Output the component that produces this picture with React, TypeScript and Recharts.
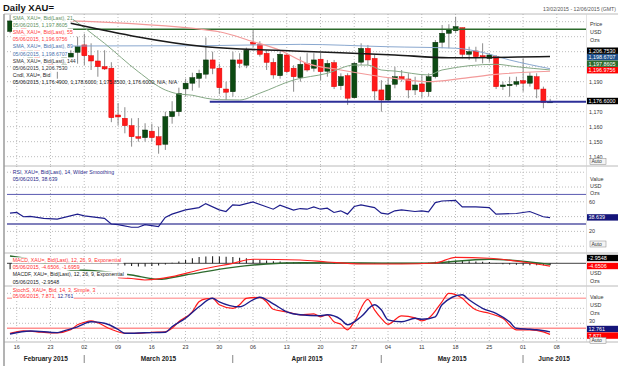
import React from "react";
import { ComposedChart, Bar, Line, XAxis, YAxis, CartesianGrid, ReferenceLine } from "recharts";

const FONT = "'Liberation Sans', Arial, sans-serif";
const X_DOMAIN: [number, number] = [-0.44, 85.33];

// trading-day index 0 = 13/02/2015 ... 80 = 05/06/2015
const dayTicks = [1, 6, 11, 16, 21, 26, 31, 36, 41, 46, 51, 56, 61, 66, 71, 76, 81];
const dayLabels = ["16", "23", "02", "09", "16", "23", "30", "06", "13", "20", "27", "04", "11", "18", "25", "01", "08"];
const monthCenters = [5.3, 22, 44, 65.5, 80.6];
const monthLabels = ["February 2015", "March 2015", "April 2015", "May 2015", "June 2015"];
const monthStarts = [11, 33, 55, 76];

const opens = [1223.5, 1229, 1227, 1202, 1211, 1205, 1204, 1198, 1200, 1206, 1209.6, 1214.5, 1207.3, 1203.8, 1200, 1199, 1167.8, 1165.6, 1160.7, 1153.3, 1152.7, 1157, 1153.3, 1148.3, 1166.7, 1170, 1185.2, 1189, 1192.2, 1195, 1204.5, 1199, 1185.1, 1183.3, 1204.5, 1201, 1216.3, 1215, 1208.9, 1202.9, 1194, 1207.8, 1199, 1192.7, 1202.2, 1199, 1205, 1197, 1202.7, 1187.3, 1194, 1179.3, 1203, 1212.2, 1205.5, 1184.5, 1177.8, 1188.3, 1193.3, 1191.8, 1184.5, 1188.5, 1183.3, 1193.3, 1216.3, 1222.3, 1224, 1226, 1208.3, 1210.5, 1207.3, 1205.5, 1206.7, 1186.7, 1187.3, 1188.3, 1190.7, 1189, 1193.3, 1185.1, 1176.49];
const highs = [1234.5, 1233, 1230, 1213, 1215, 1218, 1207, 1207, 1213, 1214, 1220, 1222, 1215.6, 1211, 1211, 1203, 1175.8, 1173, 1165.6, 1165.8, 1162.3, 1162, 1160, 1170, 1177, 1186, 1192, 1196, 1198, 1219.5, 1210, 1202, 1190, 1210, 1209, 1212.7, 1225, 1217, 1211, 1205.6, 1210, 1209, 1201, 1206.7, 1209, 1209, 1209, 1204.5, 1204.5, 1195.6, 1195.6, 1203.3, 1215.6, 1214.5, 1207.8, 1191, 1193, 1200, 1197.8, 1195.6, 1193.3, 1194.5, 1195.6, 1217.8, 1227.8, 1228.3, 1233.3, 1226, 1213.3, 1213.3, 1215.6, 1209, 1207.8, 1190, 1193.3, 1193.3, 1205.6, 1196.3, 1195.6, 1186.7, 1178.6];
const lows = [1222.3, 1222, 1199, 1197, 1203, 1199, 1193, 1192, 1198, 1202, 1202, 1201, 1197.8, 1193.3, 1197.8, 1163, 1161, 1155.6, 1146.7, 1150, 1150, 1150, 1142, 1144.5, 1162, 1167, 1180, 1184, 1186, 1192, 1195, 1181.6, 1177.8, 1180, 1199, 1199, 1213, 1206.7, 1197.8, 1192, 1192, 1195.6, 1183.3, 1190, 1196.7, 1196.7, 1191, 1193.3, 1185.1, 1184.5, 1174.5, 1179, 1201.1, 1201, 1177.8, 1170, 1177, 1185.6, 1190, 1179, 1181.1, 1179.3, 1180, 1192.2, 1212.3, 1212.3, 1222.3, 1205.6, 1204.5, 1203.3, 1202.2, 1203.3, 1185.1, 1184.5, 1180, 1186.7, 1183.3, 1186.7, 1179, 1172.3, 1175.85];
const closes = [1230.5, 1227, 1208, 1211, 1205, 1204, 1198, 1200, 1209, 1209, 1213.3, 1207.3, 1203.8, 1200, 1198.5, 1166, 1166.5, 1160.7, 1153.3, 1152.3, 1157.8, 1152.7, 1147.8, 1166.7, 1170, 1182.3, 1189, 1192.7, 1195.6, 1204.5, 1199, 1186, 1183, 1204.5, 1202.2, 1211, 1215, 1208.3, 1202.9, 1194.5, 1208.3, 1196.7, 1193.3, 1201.6, 1197.8, 1204.5, 1196.7, 1202.2, 1186.7, 1193.3, 1179, 1202.2, 1212.2, 1204.5, 1183.8, 1177.8, 1187.8, 1193.3, 1191.8, 1184.5, 1187.8, 1183.3, 1193.3, 1216.3, 1222.3, 1224.5, 1226.7, 1208.3, 1210, 1206.7, 1206, 1207.8, 1186.7, 1187.8, 1188.3, 1190, 1189, 1193.8, 1185.1, 1176.2, 1176.6];

// moving averages: [day index, value]
const sma21 = [[9, 1232.7], [14, 1215.6], [19, 1196.7], [23, 1184.5], [25, 1181.8], [27, 1181], [29, 1179], [31, 1178], [34, 1177.8], [37, 1182.3], [42, 1191.1], [47, 1195.6], [51, 1201.1], [53, 1201.1], [55, 1197.8], [57, 1197.1], [62, 1194.5], [64, 1197.8], [72, 1201.6], [75, 1200], [80, 1197.86]];
const sma55 = [[9, 1230.5], [29, 1224.5], [31, 1223.3], [36, 1216.7], [40, 1211], [44, 1202.2], [49, 1197.8], [57, 1192.2], [62, 1190], [67, 1192.2], [72, 1194.9], [80, 1196.98]];
const sma89 = [[9, 1213.8], [29, 1214], [43, 1214.9], [56, 1213.3], [66, 1212.3], [70, 1209.5], [74, 1204.5], [80, 1198.67]];
const sma144 = [[9, 1229], [29, 1213.3], [42, 1210.5], [57, 1207.8], [65, 1206], [80, 1206.75]];
const resistance = 1225;
const support = 1176.6;
const supportFrom = 29.6;

const rsi = [[0, 44.7], [1, 45.6], [2, 39.8], [3, 40.2], [5, 37.6], [7, 36.7], [10, 43.3], [11, 41.1], [14, 37.6], [15, 30], [16, 29.1], [18, 25.6], [19, 25.6], [20, 29.1], [22, 26.4], [23, 38.9], [24, 43.3], [26, 49.1], [28, 52.2], [29, 57.6], [31, 49.1], [32, 46.9], [33, 55.8], [34, 55.3], [36, 59.8], [39, 50], [40, 55.3], [42, 48.7], [43, 50.9], [44, 50], [45, 53.1], [46, 50], [47, 51.3], [48, 45.6], [49, 47.8], [50, 43.3], [51, 53.6], [52, 55.8], [54, 52.2], [55, 44.7], [56, 43.3], [57, 47.8], [58, 49.1], [60, 46.9], [61, 47.8], [62, 46.4], [63, 58.9], [64, 61.1], [66, 62], [67, 53.1], [69, 53.1], [71, 52.2], [72, 43.3], [75, 44.2], [77, 46.9], [79, 39.8], [80, 38.639]];

const macd = [[16, -23.2], [18, -24.5], [20, -26.9], [24, -21.6], [28, -10.8], [33, 0], [36, 6.5], [43, 5.3], [47, 2.1], [52, -1.1], [58, -1.1], [63, 0.5], [66, 9.7], [71, 8.1], [76, 2.1], [80, -4.6506]];
const signal = [[0, 11.8], [3, 6.5], [9, -10.8], [11, -11.3], [18, -18.9], [22, -25.8], [26, -18.9], [33, -6.5], [38, -1.1], [43, 1], [52, 0.5], [61, 0], [71, 6.5], [80, -1.6959]];
const hist = [[0, -9.5], [1, -9.5], [15, -1], [16, -2], [17, -3.5], [18, -4.5], [19, -5], [20, -5], [21, -4.5], [22, -3.5], [23, -2], [24, 1], [25, 3], [26, 5.5], [27, 8], [28, 10], [29, 11], [30, 11.5], [31, 11], [32, 10.5], [33, 10], [34, 9], [35, 8], [36, 7], [37, 5.5], [38, 4.5], [39, 3.5], [40, 3], [41, 2], [42, 1.5], [43, 1], [44, 0.5], [46, -0.5], [48, -0.8], [50, -1], [52, -0.5], [54, -0.6], [56, -0.8], [58, -0.6], [60, -0.4], [62, 1], [63, 2.5], [64, 3.5], [65, 4], [66, 4.5], [67, 4], [68, 3.5], [69, 3], [70, 2.5], [71, 2], [72, -0.5], [73, -1.5], [74, -2], [75, -2.5], [76, -3], [77, -3], [78, -3], [79, -3], [80, -2.9548]];

const stochK = [[0, 10], [2, 15], [4, 13], [6, 11], [7, 11], [9, 17], [10, 27], [11, 32], [12, 35], [13, 31], [15, 18], [17, 10], [19, 10], [21, 12], [23, 13], [24, 20], [25, 33], [27, 53], [28, 73], [29, 79], [30, 80], [31, 67], [33, 60], [34, 67], [35, 80], [37, 82], [38, 73], [39, 58], [41, 53], [43, 47], [45, 49], [46, 43], [47, 47], [48, 33], [49, 28], [50, 17], [51, 33], [53, 78], [54, 57], [55, 40], [56, 28], [58, 45], [60, 41], [61, 35], [62, 40], [64, 73], [65, 90], [67, 80], [68, 67], [69, 57], [71, 50], [73, 40], [75, 17], [76, 17], [77, 17], [79, 13], [80, 7.871]];
const stochD = [[0, 8.7], [3, 14.7], [7, 11.3], [8, 15], [10, 23], [12, 33], [14, 30], [16, 18], [17, 10], [20, 11], [23, 12], [24, 23], [26, 40], [28, 63], [30, 80], [31, 73], [34, 63], [36, 77], [37, 82], [39, 69], [41, 53], [43, 47], [46, 45], [47, 47], [49, 38], [50, 27], [52, 43], [54, 67], [55, 57], [56, 37], [58, 33], [60, 40], [61, 38], [63, 43], [64, 67], [67, 87], [68, 77], [70, 60], [72, 50], [74, 33], [75, 20], [77, 18], [78, 17], [80, 12.761]];

const priceGrid = [1140, 1150, 1160, 1170, 1180, 1190, 1200, 1210, 1220, 1230];
const priceShown = [1140, 1150, 1160, 1170, 1190];
const rsiGrid = [0, 20, 40, 60, 80, 100];
const rsiShown = [20, 60];
const stochGrid = [0, 30, 60, 90];
const stochShown = [30];

const asMap = (pts: number[][]) => new Map(pts.map(([i, v]) => [i, v]));

const m21 = asMap(sma21), m55 = asMap(sma55), m89 = asMap(sma89), m144 = asMap(sma144);
const candles = opens.map((o, i) => ({
  i, o, h: highs[i], l: lows[i], c: closes[i], range: [lows[i], highs[i]],
  s21: m21.get(i), s55: m55.get(i), s89: m89.get(i), s144: m144.get(i),
}));

const rsiRows = rsi.map(([i, v]) => ({ i, v }));

const mM = asMap(macd), mS = asMap(signal), mH = asMap(hist);
const macdRows = opens.map((_, i) => ({ i, m: mM.get(i), s: mS.get(i), h: mH.get(i) }));

const kM = asMap(stochK), dM = asMap(stochD);
const stochRows = opens.map((_, i) => ({ i, k: kM.get(i), d: dM.get(i) }));

function Candle(props: any) {
  const { x, y, width, height, payload } = props;
  const { o, h, l, c } = payload;
  const top = Math.min(y, y + height);
  const span = Math.abs(height);
  const k = h === l ? 0 : span / (h - l);
  const cx = x + width / 2;
  const bTop = top + (h - Math.max(o, c)) * k;
  const bBot = top + (h - Math.min(o, c)) * k;
  const up = c >= o;
  return (
    <g>
      <line x1={cx} x2={cx} y1={top} y2={top + span} stroke="#8c8c8c" strokeWidth={1} />
      <rect x={x} y={bTop} width={width} height={Math.max(1, bBot - bTop)}
        fill={up ? "#0c4a12" : "#ff1a1a"} stroke={up ? "#062e08" : "#e00000"} strokeWidth={0.5} />
    </g>
  );
}

const rightTick = (shown: number[], fmt: (v: number) => string, dy = 2) => (props: any) => {
  const { x, y, payload } = props;
  if (!shown.includes(payload.value)) return <g />;
  return (
    <text x={x + 3} y={y} dy={dy} fontSize={5.4} fill="#333" fontFamily={FONT}>{fmt(payload.value)}</text>
  );
};

function DayTick(props: any) {
  const { x, y, payload } = props;
  const k = dayTicks.indexOf(payload.value);
  return <text x={x} y={y + 7} textAnchor="middle" fontSize={5.4} fill="#333" fontFamily={FONT}>{dayLabels[k]}</text>;
}

function MonthTick(props: any) {
  const { x, y, payload } = props;
  if (monthStarts.includes(payload.value)) {
    return <line x1={x} x2={x} y1={y + 3} y2={y + 11} stroke="#666" strokeWidth={0.8} />;
  }
  const k = monthCenters.indexOf(payload.value);
  return <text x={x} y={y + 9} textAnchor="middle" fontSize={6.5} fontWeight="bold" fill="#222" fontFamily={FONT}>{monthLabels[k]}</text>;
}

const gridProps = { stroke: "#b4b4b4", strokeDasharray: "1 2", strokeWidth: 0.9 };

const mainLegend = [
  { t: "SMA, XAU=, Bid(Last), 21", c: "#5d8f5d" },
  { t: "05/06/2015, 1,197.8605", c: "#5d8f5d" },
  { t: "SMA, XAU=, Bid(Last), 55", c: "#ff4040" },
  { t: "05/06/2015, 1,196.9756", c: "#ff4040" },
  { t: "SMA, XAU=, Bid(Last), 89", c: "#4a72ad" },
  { t: "05/06/2015, 1,198.6707", c: "#4a72ad" },
  { t: "SMA, XAU=, Bid(Last), 144", c: "#333" },
  { t: "05/06/2015, 1,206.7530", c: "#333" },
  { t: "Cndl, XAU=, Bid", c: "#222" },
  { t: "05/06/2015, 1,176.4900, 1,178.6000, 1,175.8500, 1,176.6000, N/A, N/A", c: "#222" },
];

const panelLegends = [
  { t: "RSI, XAU=, Bid(Last), 14, Wilder Smoothing", c: "#2a2a8a", y: 172 },
  { t: "05/06/2015, 38.639", c: "#2a2a8a", y: 178.6 },
  { t: "MACD, XAU=, Bid(Last), 12, 26, 9, Exponential", c: "#ff3030", y: 260.4 },
  { t: "05/06/2015, -4.6506, -1.6959", c: "#ff3030", y: 267 },
  { t: "MACDF, XAU=, Bid(Last), 12, 26, 9, Exponential", c: "#222", y: 274.5 },
  { t: "05/06/2015, -2.9548", c: "#222", y: 282.2 },
  { t: "StochS, XAU=, Bid, 14, 3, Simple, 3", c: "#ff3030", y: 289.6 },
];

const boxes = [
  { t: "1,206.7530", y: 50.7, bg: "#000" },
  { t: "1,198.6707", y: 57.2, bg: "#1d4f8a" },
  { t: "1,197.8605", y: 63.7, bg: "#2a6a2a" },
  { t: "1,196.9756", y: 70.2, bg: "#ff0000" },
  { t: "1,176.6000", y: 101, bg: "#000" },
  { t: "38.639", y: 217.4, bg: "#15157a" },
  { t: "-2.9548", y: 258, bg: "#000" },
  { t: "-4.6506", y: 266, bg: "#ff0000" },
  { t: "12.761", y: 329, bg: "#15157a" },
  { t: "7.871", y: 335.6, bg: "#ff0000" },
];

const axisWords = [
  { t: "Price", y: 24 }, { t: "USD", y: 32 }, { t: "Ozs", y: 40 },
  { t: "Value", y: 179 }, { t: "USD", y: 186.2 }, { t: "Ozs", y: 193.4 },
  { t: "USD", y: 273 }, { t: "Ozs", y: 280.7 },
  { t: "Value", y: 297 }, { t: "USD", y: 305 }, { t: "Ozs", y: 312.8 },
];
const autoBoxes = [161.5, 244, 340.5];

const textW = (s: string, fs: number) =>
  s.split("").reduce((w, ch) => w + (/[0-9]/.test(ch) ? 0.556 : /[A-Z]/.test(ch) ? 0.68 : /[a-z]/.test(ch) ? 0.5 : 0.278), 0) * fs;

function Overlay() {
  const fs = 5.2;
  return (
    <svg width={620} height={368} style={{ position: "absolute", left: 0, top: 0, pointerEvents: "none" }} fontFamily={FONT}>
      <text x={3} y={11} fontSize={9.5} fontWeight="bold" fill="#111">Daily XAU=</text>
      <text x={616} y={11} fontSize={5.2} fill="#555" textAnchor="end">13/02/2015 - 12/06/2015 (GMT)</text>
      {[14, 166, 253, 286, 342].map((y) => (
        <line key={y} x1={4} x2={618} y1={y} y2={y} stroke="#a8a8a8" strokeWidth={0.8} />
      ))}
      <line x1={4} x2={4} y1={14} y2={366} stroke="#9a9a9a" strokeWidth={1.5} />
      <line x1={586.5} x2={586.5} y1={14} y2={342} stroke="#d0d0d0" strokeWidth={0.6} />
      {mainLegend.map((r, k) => {
        const y = 17.6 + k * 7.2;
        return (
          <g key={k}>
            {k < 9 && <rect x={12} y={y - 3.4} width={textW(r.t, fs) + 1} height={7.2} fill="#fff" />}
            <text x={12.7} y={y} dy={1.9} fontSize={fs} fill={r.c}>{r.t}</text>
          </g>
        );
      })}
      {panelLegends.map((r, k) => (
        <g key={k}>
          <rect x={12} y={r.y - 3.1} width={textW(r.t, fs) + 1} height={6.2} fill="#fff" />
          <text x={12.7} y={r.y} dy={1.9} fontSize={fs} fill={r.c}>{r.t}</text>
        </g>
      ))}
      <rect x={12} y={293.2} width={textW("05/06/2015, 7.871, 12.761", fs) + 1} height={6.2} fill="#fff" />
      <text x={12.7} y={296.3} dy={1.9} fontSize={fs}>
        <tspan fill="#ff3030">05/06/2015, 7.871, </tspan>
        <tspan fill="#2a2a8a">12.761</tspan>
      </text>
      {axisWords.map((w, k) => (
        <text key={k} x={590} y={w.y} dy={1.9} fontSize={5.4} fill="#333">{w.t}</text>
      ))}
      {boxes.map((b, k) => (
        <g key={k}>
          <rect x={587} y={b.y - 3.2} width={31} height={6.4} fill={b.bg} />
          <text x={588.5} y={b.y} dy={1.9} fontSize={5.4} fill="#fff">{b.t}</text>
        </g>
      ))}
      {autoBoxes.map((y) => (
        <g key={y}>
          <rect x={590} y={y - 3} width={16} height={6} fill="#f4f4f4" stroke="#888" strokeWidth={0.5} />
          <text x={591.5} y={y} dy={1.8} fontSize={5} fill="#333">Auto</text>
        </g>
      ))}
    </svg>
  );
}

const margin = { top: 0, right: 0, bottom: 0, left: 7 };

export default function App() {
  return (
    <div style={{ position: "absolute", left: 0, top: 0, width: 620, height: 368, background: "#fff", overflow: "hidden" }}>
      <div style={{ position: "absolute", left: 0, top: 14 }}>
        <ComposedChart width={620} height={152} data={candles} margin={margin}>
          <CartesianGrid {...gridProps} verticalValues={dayTicks} horizontalValues={priceGrid} />
          <XAxis dataKey="i" type="number" domain={X_DOMAIN} ticks={dayTicks} hide allowDataOverflow />
          <YAxis orientation="right" width={34} domain={[1133.8, 1235.13]} ticks={priceGrid} interval={0}
            axisLine={false} tickLine={false} tickSize={0} tickMargin={0} allowDataOverflow
            tick={rightTick(priceShown, (v) => v.toLocaleString("en-US"))} />
          <ReferenceLine segment={[{ x: 8.5, y: resistance }, { x: X_DOMAIN[1], y: resistance }]} stroke="#2b6a2b" strokeWidth={1.5} />
          <Line dataKey="s89" stroke="#8aa8cf" strokeWidth={1} dot={false} connectNulls type="monotone" isAnimationActive={false} />
          <Line dataKey="s55" stroke="#f39a9a" strokeWidth={1.2} dot={false} connectNulls type="monotone" isAnimationActive={false} />
          <Line dataKey="s21" stroke="#86a986" strokeWidth={1} dot={false} connectNulls type="monotone" isAnimationActive={false} />
          <Line dataKey="s144" stroke="#1a1a1a" strokeWidth={1.6} dot={false} connectNulls type="monotone" isAnimationActive={false} />
          <Bar dataKey="range" barSize={5} shape={(p: any) => <Candle {...p} />} isAnimationActive={false} />
          <ReferenceLine segment={[{ x: supportFrom, y: support }, { x: X_DOMAIN[1], y: support }]} stroke="#2c2f98" strokeWidth={2} />
        </ComposedChart>
      </div>

      <div style={{ position: "absolute", left: 0, top: 166 }}>
        <ComposedChart width={620} height={87} data={rsiRows} margin={margin}>
          <CartesianGrid {...gridProps} verticalValues={dayTicks} horizontalValues={rsiGrid} />
          <XAxis dataKey="i" type="number" domain={X_DOMAIN} ticks={dayTicks} hide allowDataOverflow />
          <YAxis orientation="right" width={34} domain={[-9.2, 108.4]} ticks={rsiGrid} interval={0}
            axisLine={false} tickLine={false} tickSize={0} tickMargin={0} allowDataOverflow
            tick={rightTick(rsiShown, (v) => String(v))} />
          <ReferenceLine y={70} stroke="#5a5ab0" strokeWidth={1} />
          <ReferenceLine y={30} stroke="#8080bc" strokeWidth={2} />
          <Line dataKey="v" stroke="#1e1e8c" strokeWidth={1.2} dot={false} type="linear" isAnimationActive={false} />
        </ComposedChart>
      </div>

      <div style={{ position: "absolute", left: 0, top: 253 }}>
        <ComposedChart width={620} height={33} data={macdRows} margin={margin}>
          <CartesianGrid {...gridProps} verticalValues={dayTicks} horizontal={false} />
          <XAxis dataKey="i" type="number" domain={X_DOMAIN} ticks={dayTicks} hide allowDataOverflow />
          <YAxis orientation="right" width={34} domain={[-36.6, 16.6]} tick={false} axisLine={false} tickLine={false} allowDataOverflow />
          <ReferenceLine y={0} stroke="#111" strokeWidth={0.8} />
          <Bar dataKey="h" barSize={1} fill="#111" isAnimationActive={false} />
          <Line dataKey="s" stroke="#2d6a2d" strokeWidth={1.4} dot={false} connectNulls type="monotone" isAnimationActive={false} />
          <Line dataKey="m" stroke="#ff2020" strokeWidth={1.2} dot={false} connectNulls type="monotone" isAnimationActive={false} />
        </ComposedChart>
      </div>

      <div style={{ position: "absolute", left: 0, top: 286 }}>
        <ComposedChart width={620} height={82} data={stochRows} margin={margin}>
          <CartesianGrid {...gridProps} verticalValues={dayTicks} horizontalValues={stochGrid} />
          <XAxis dataKey="i" type="number" domain={X_DOMAIN} ticks={dayTicks} interval={0} height={10}
            axisLine={false} tickLine={false} tickSize={0} tickMargin={0} allowDataOverflow tick={<DayTick />} />
          <XAxis xAxisId="m" dataKey="i" type="number" domain={X_DOMAIN} ticks={[...monthCenters, ...monthStarts]} interval={0} height={16}
            axisLine={false} tickLine={false} tickSize={0} tickMargin={0} allowDataOverflow tick={<MonthTick />} />
          <YAxis orientation="right" width={34} domain={[-7.4, 104.6]} ticks={stochGrid} interval={0}
            axisLine={false} tickLine={false} tickSize={0} tickMargin={0} allowDataOverflow
            tick={rightTick(stochShown, (v) => String(v), 0)} />
          <ReferenceLine y={80} stroke="#ffaaaa" strokeWidth={1.6} />
          <ReferenceLine y={20} stroke="#ff9090" strokeWidth={1.6} />
          <Line dataKey="k" stroke="#ff1a1a" strokeWidth={1.2} dot={false} connectNulls type="monotone" isAnimationActive={false} />
          <Line dataKey="d" stroke="#1e1e8c" strokeWidth={1.4} dot={false} connectNulls type="monotone" isAnimationActive={false} />
        </ComposedChart>
      </div>

      <Overlay />
    </div>
  );
}
